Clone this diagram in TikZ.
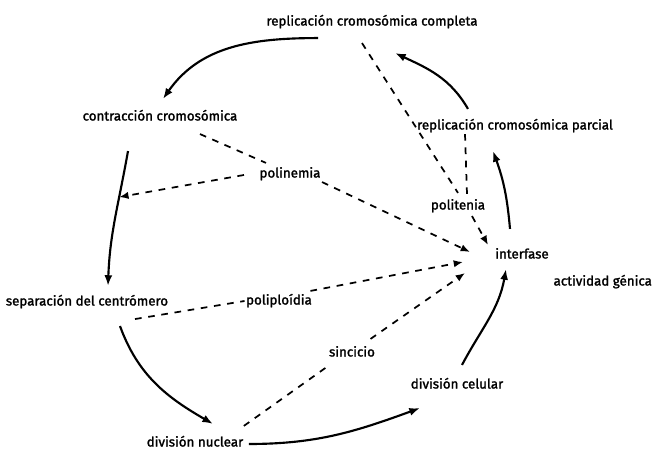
\documentclass[tikz,border=0pt]{standalone}
\usepackage{fontspec}
\setmainfont{Fira Sans}
\newfontfamily\lblfont{Fira Sans}[FakeBold=1.6]
\usetikzlibrary{arrows.meta,calc}

\begin{document}
\begin{tikzpicture}[x=0.75pt,y=0.75pt,
  lbl/.style={inner sep=1pt,text height=7.5pt,text depth=2.2pt,font=\lblfont\fontsize{10}{11}\selectfont},
  cyc/.style={-{Latex[length=8pt,width=6pt]},line width=1.6pt},
  dsh/.style={-{Latex[length=7pt,width=5.5pt]},line width=1.3pt,dash pattern=on 5pt off 5pt},
  dshl/.style={line width=1.3pt,dash pattern=on 5pt off 5pt}]
  \useasboundingbox (0,0) rectangle (661,452);
  % stages of the cycle
  \node[lbl] (compl) at (372,430){replicación cromosómica completa};
  \node[lbl] (contr) at (160,335){contracción cromosómica};
  \node[lbl] (parc) at (515,326){replicación cromosómica parcial};
  \node[lbl] (separ) at (87,150){separación del centrómero};
  \node[lbl] (nuclear) at (195,9){división nuclear};
  \node[lbl] (celular) at (457,67){división celular};
  \node[lbl] (interfase) at (522,197){interfase};
  \node[lbl,anchor=west] (activ) at (552,170){actividad génica};
  % shortcuts
  \node[lbl] (polinemia) at (290,278){polinemia};
  \node[lbl] (politenia) at (458,246){politenia};
  \node[lbl] (poliploidia) at (279,151){poliploídia};
  \node[lbl] (sincicio) at (352,99){sincicio};
  \coordinate (inA) at (470,200);
  \coordinate (inB) at (488,207);
  \coordinate (inC) at (463,190);
  \coordinate (inD) at (465,179);

  % the cycle
  \draw[cyc] ($(compl.south)+(-54,-8)$) to[out=180,in=55] ($(contr.north)+(3,10)$);
  \draw[cyc] ($(contr.south)+(-32,-26)$) to[out=-100,in=88] coordinate[pos=0.33] (arcpt) ($(separ.north)+(21,8)$);
  \draw[cyc] ($(separ.south)+(33,-16)$) to[out=-70,in=150] ($(nuclear.north)+(18,11)$);
  \draw[cyc] ($(nuclear.east)+(4,-1)$) to[out=0,in=200] ($(celular.south)+(-37,-15)$);
  \draw[cyc] ($(celular.north)+(5,12)$) to[out=62,in=-100] ($(interfase.south)+(-16,-6)$);
  \draw[cyc] ($(interfase.north)+(-12,18)$) to[out=95,in=-70] ($(parc.south)+(-22,-17)$);
  \draw[cyc] ($(parc.north)+(-47,9)$) to[out=120,in=-25] ($(compl.south)+(23,-23)$);

  % dashed ways back to interphase
  \draw[dshl] ($(contr.south)+(40,-9)$) -- ($(polinemia.north west)+(8,3)$);
  \draw[dsh] ($(polinemia.west)+(-14,-1)$) -- (arcpt);
  \draw[dsh] (polinemia.south east) -- (inA);
  \draw[dshl] ($(compl.south)+(-10,-13)$) -- ($(politenia.north)+(0,5)$);
  \draw[dshl] ($(parc.south)+(-50,0)$) -- ($(politenia.north)+(9,4)$);
  \draw[dsh] ($(politenia.south)+(14,-2)$) -- (inB);
  \draw[dshl] ($(separ.south)+(48,-9)$) -- (poliploidia.west);
  \draw[dsh] ($(poliploidia.north east)+(-3,2)$) -- (inC);
  \draw[dshl] ($(nuclear.north east)+(-1,9)$) -- ($(sincicio.south west)+(2,-4)$);
  \draw[dsh] ($(sincicio.north east)+(-6,6)$) -- (inD);
\end{tikzpicture}
\end{document}
